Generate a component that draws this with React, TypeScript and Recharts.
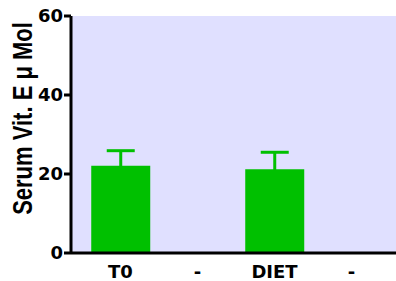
import { BarChart, Bar, XAxis, YAxis, CartesianGrid, ErrorBar, Label } from 'recharts';

const groups = ['T0', '-', 'DIET', '-'];
const vitE = [22.1, null, 21.2, null];
const vitESem = [3.8, null, 4.3, null];
const yTicks = [0, 20, 40, 60];

const data = groups.map((g, i) => ({ group: g, value: vitE[i], err: vitESem[i] }));

const tickFont = { fill: '#000', fontSize: 18, fontWeight: 'bold', fontFamily: 'DejaVu Sans, sans-serif' };

// the original graph is a bit stretched sideways, so the title is scaled on x
const YTitle = (props: any) => {
    const { viewBox } = props;
    const cy = viewBox.y + viewBox.height / 2 - 16;
    return (
        <text
            transform={`translate(32, ${cy}) scale(1.23, 1) rotate(-90)`}
            textAnchor="middle"
            style={{ fontSize: 22, fontWeight: 'bold', fontFamily: 'Liberation Sans, Arial, sans-serif', fill: '#000' }}
        >
            Serum Vit. E μ Mol
        </text>
    );
};

export default function App() {
    return (
        <div style={{ position: 'absolute', left: 0, top: 0, background: '#fff' }}>
            <BarChart width={396} height={281} data={data} margin={{ top: 16, right: 0, left: 0, bottom: 0 }} barCategoryGap="12%">
                <CartesianGrid fill="#E0E0FF" stroke="none" />
                <XAxis
                    dataKey="group"
                    height={28}
                    padding={{ left: 11, right: 6 }}
                    axisLine={{ stroke: '#000', strokeWidth: 3 }}
                    tickLine={false}
                    tickSize={0}
                    tickMargin={12}
                    tick={tickFont}
                    interval={0}
                />
                <YAxis
                    width={71}
                    domain={[0, 60]}
                    ticks={yTicks}
                    allowDataOverflow
                    axisLine={{ stroke: '#000', strokeWidth: 3 }}
                    tickLine={{ stroke: '#000', strokeWidth: 3 }}
                    tickSize={7}
                    tickMargin={1}
                    tick={tickFont}
                >
                    <Label content={YTitle} />
                </YAxis>
                <Bar dataKey="value" fill="#00C000" isAnimationActive={false}>
                    <ErrorBar dataKey="err" width={14} stroke="#00C000" strokeWidth={3} direction="y" />
                </Bar>
            </BarChart>
        </div>
    );
}
